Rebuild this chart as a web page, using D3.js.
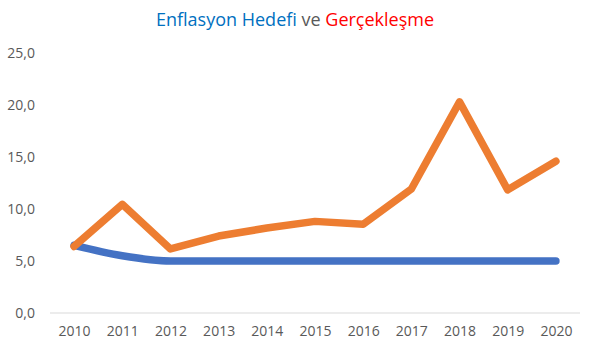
<!DOCTYPE html>
<html lang="tr">
<head>
<meta charset="UTF-8">
<title>Enflasyon Hedefi ve Gerçekleşme</title>
<style>
  body { margin: 0; background: #fff; }
  svg text { font-family: "Open Sans", "Liberation Sans", sans-serif; }
</style>
</head>
<body>
<script src="https://d3js.org/d3.v7.min.js"></script>
<script>
    var years = ['2010','2011','2012','2013','2014','2015','2016','2017','2018','2019','2020'];
    var hedef = [6.5, 5.5, 5.0, 5.0, 5.0, 5.0, 5.0, 5.0, 5.0, 5.0, 5.0];
    var gerceklesme = [6.4, 10.45, 6.16, 7.4, 8.17, 8.81, 8.53, 11.92, 20.3, 11.84, 14.6];
    var yTicks = [0, 5, 10, 15, 20, 25];

    var W = 590, H = 350;
    var margin = {top: 53, right: 10, bottom: 37, left: 50};
    var width = W - margin.left - margin.right,
        height = H - margin.top - margin.bottom;

    var svg = d3.select('body').append('svg')
        .attr('width', W).attr('height', H);

    // title, three colours
    var title = svg.append('text')
        .attr('x', W / 2).attr('y', 26)
        .attr('text-anchor', 'middle')
        .style('font-size', '18px');
    title.append('tspan').attr('fill', '#0070C0').text('Enflasyon Hedefi');
    title.append('tspan').attr('fill', '#595959').text(' ve ');
    title.append('tspan').attr('fill', '#FF0000').text('Gerçekleşme');

    var g = svg.append('g')
        .attr('transform', 'translate(' + margin.left + ',' + margin.top + ')');

    var x = d3.scalePoint().domain(years).range([0, width]).padding(0.5);
    var y = d3.scaleLinear().domain([0, 25]).range([height, 0]);

    var fmt = function(d) { return d3.format('.1f')(d).replace('.', ','); };

    // baseline
    g.append('line')
        .attr('x1', 0).attr('x2', width)
        .attr('y1', y(0)).attr('y2', y(0))
        .attr('stroke', '#d9d9d9').attr('stroke-width', 1);

    var yAxis = g.append('g').call(d3.axisLeft(y).tickValues(yTicks).tickFormat(fmt).tickSize(0).tickPadding(15));
    yAxis.select('.domain').remove();
    yAxis.selectAll('text').attr('fill', '#595959').style('font-size', '14px');

    var xAxis = g.append('g').attr('transform', 'translate(0,' + height + ')')
        .call(d3.axisBottom(x).tickSize(0).tickPadding(13));
    xAxis.select('.domain').remove();
    xAxis.selectAll('text').attr('fill', '#595959').style('font-size', '14px');

    var smooth = d3.line()
        .x(function(d, i) { return x(years[i]); })
        .y(function(d) { return y(d); })
        .curve(d3.curveMonotoneX);
    var straight = d3.line()
        .x(function(d, i) { return x(years[i]); })
        .y(function(d) { return y(d); });

    g.append('path').datum(hedef)
        .attr('d', smooth)
        .attr('fill', 'none').attr('stroke', '#4472C4')
        .attr('stroke-width', 7.5).attr('stroke-linecap', 'round').attr('stroke-linejoin', 'round');

    g.append('path').datum(gerceklesme)
        .attr('d', straight)
        .attr('fill', 'none').attr('stroke', '#ED7D31')
        .attr('stroke-width', 7.5).attr('stroke-linecap', 'round').attr('stroke-linejoin', 'round');
</script>
</body>
</html>
